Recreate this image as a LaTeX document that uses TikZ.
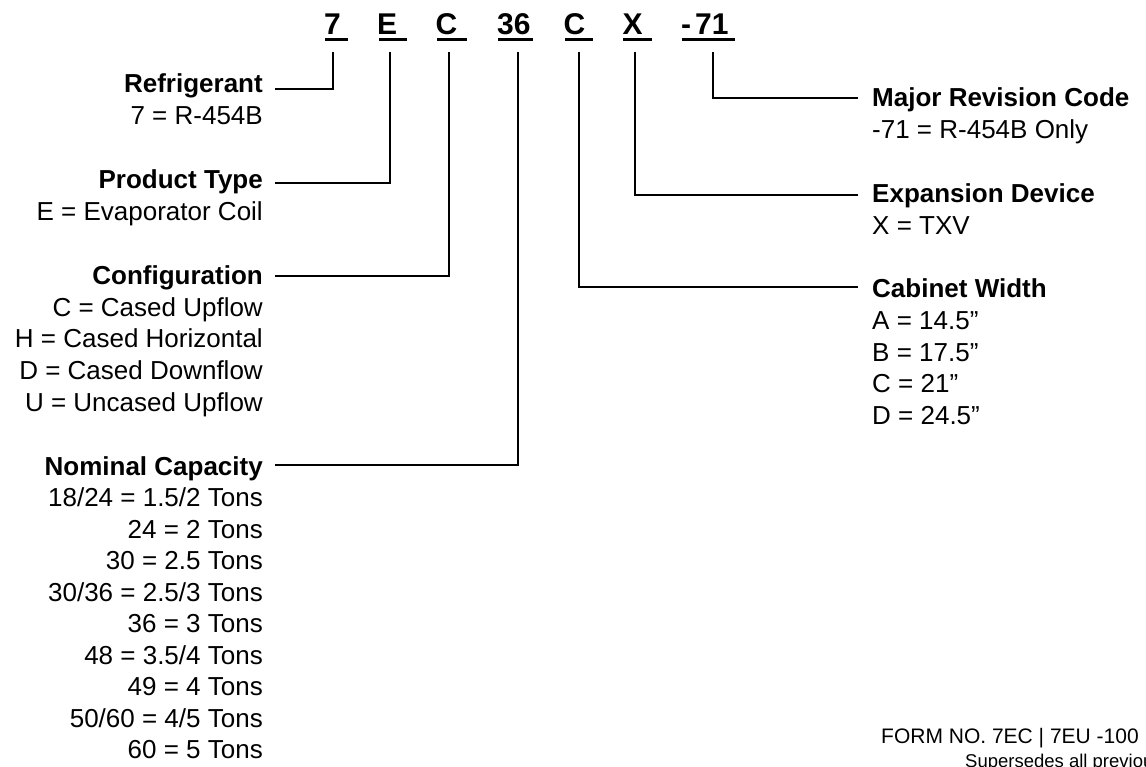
\documentclass[tikz,border=0pt]{standalone}
\usepackage{fontspec}
\setmainfont{Liberation Sans}
\begin{document}
\begin{tikzpicture}[x=1pt,y=-1pt,
  lbl/.style={inner sep=0pt, font=\fontsize{26}{31}\selectfont},
  head/.style={inner sep=0pt, font=\fontsize{26}{31}\selectfont\bfseries},
  lefttxt/.style={anchor=base east},
  righttxt/.style={anchor=base west},
  codetxt/.style={inner sep=0pt, anchor=base west, font=\fontsize{30}{36}\selectfont\bfseries},
  conn/.style={line width=2.6pt, line join=miter},
  uline/.style={line width=2.7pt}]
\useasboundingbox (0,0) rectangle (1146,767);
\fill[white] (0,0) rectangle (1146,767);

% code letters
\node[codetxt] (c7)  at (324,35) {7};
\node[codetxt] (cE)  at (377,35) {E};
\node[codetxt] (cC)  at (435.5,35) {C};
\node[codetxt] (c36) at (497,35) {36};
\node[codetxt] (cC2) at (563.5,35) {C};
\node[codetxt] (cX)  at (622.5,35) {X};
\node[codetxt] (c71) at (681,35) {-\kern4pt71};
\draw[uline] (325,39.3) -- (348,39.3);
\draw[uline] (379,39.3) -- (407,39.3);
\draw[uline] (437,39.3) -- (467,39.3);
\draw[uline] (498,39.3) -- (533,39.3);
\draw[uline] (565,39.3) -- (593,39.3);
\draw[uline] (623,39.3) -- (652,39.3);
\draw[uline] (682,39.3) -- (735,39.3);

% left blocks
\node[head,lefttxt] (ref) at (263,93) {Refrigerant};
\node[lbl,lefttxt] (refv) at (263,124.5) {7 = R-454B};
\node[head,lefttxt] (prod) at (263,189) {Product Type};
\node[lbl,lefttxt] (prodv) at (263,220.5) {E = Evaporator Coil};
\node[head,lefttxt] (conf) at (263,285) {Configuration};
\node[lbl,lefttxt] (conf1) at (263,316.5) {C = Cased Upflow};
\node[lbl,lefttxt] (conf2) at (263,348) {H = Cased Horizontal};
\node[lbl,lefttxt] (conf3) at (263,379.5) {D = Cased Downflow};
\node[lbl,lefttxt] (conf4) at (263,411) {U = Uncased Upflow};
\node[head,lefttxt] (nom) at (263,475) {Nominal Capacity};
\foreach \t [count=\i from 0] in {18/24 = 1.5/2 Tons, 24 = 2 Tons, 30 = 2.5 Tons,
  30/36 = 2.5/3 Tons, 36 = 3 Tons, 48 = 3.5/4 Tons, 49 = 4 Tons,
  50/60 = 4/5 Tons, 60 = 5 Tons}
  \node[lbl,lefttxt] (nomv\i) at (263,506.5+31.5*\i) {\t};

% right blocks
\node[head,righttxt] (maj) at (872,107) {Major Revision Code};
\node[lbl,righttxt] (majv) at (872,138.5) {-71 = R-454B Only};
\node[head,righttxt] (exp) at (872,203) {Expansion Device};
\node[lbl,righttxt] (expv) at (872,234.5) {X = TXV};
\node[head,righttxt] (cab) at (872,298) {Cabinet Width};
\node[lbl,righttxt] (cab1) at (872,329.5) {A = 14.5”};
\node[lbl,righttxt] (cab2) at (872,361) {B = 17.5”};
\node[lbl,righttxt] (cab3) at (872,392.5) {C = 21”};
\node[lbl,righttxt] (cab4) at (872,424) {D = 24.5”};

% connector end points
\coordinate (v7)  at (333,52);   \coordinate (h7)  at (275,89);
\coordinate (vE)  at (390,52);   \coordinate (hE)  at (275,183);
\coordinate (vC)  at (449,52);   \coordinate (hC)  at (275,276);
\coordinate (v36) at (518,52);   \coordinate (h36) at (275,465);
\coordinate (vC2) at (579,52);   \coordinate (hC2) at (857.5,287);
\coordinate (vX)  at (635,52);   \coordinate (hX)  at (857.5,195);
\coordinate (v71) at (713,52);   \coordinate (h71) at (857.5,98);
\draw[conn] (v7) |- (h7);
\draw[conn] (vE) |- (hE);
\draw[conn] (vC) |- (hC);
\draw[conn] (v36) |- (h36);
\draw[conn] (vC2) |- (hC2);
\draw[conn] (vX) |- (hX);
\draw[conn] (v71) |- (h71);

% footer
\node[inner sep=0pt, anchor=base west, font=\fontsize{21}{25}\selectfont] (form) at (881,743) {FORM NO. 7EC | 7EU -100};
\node[inner sep=0pt, anchor=base west, font=\fontsize{18.5}{22}\selectfont] (sup) at (965,767) {Supersedes all previous};
\end{tikzpicture}
\end{document}
